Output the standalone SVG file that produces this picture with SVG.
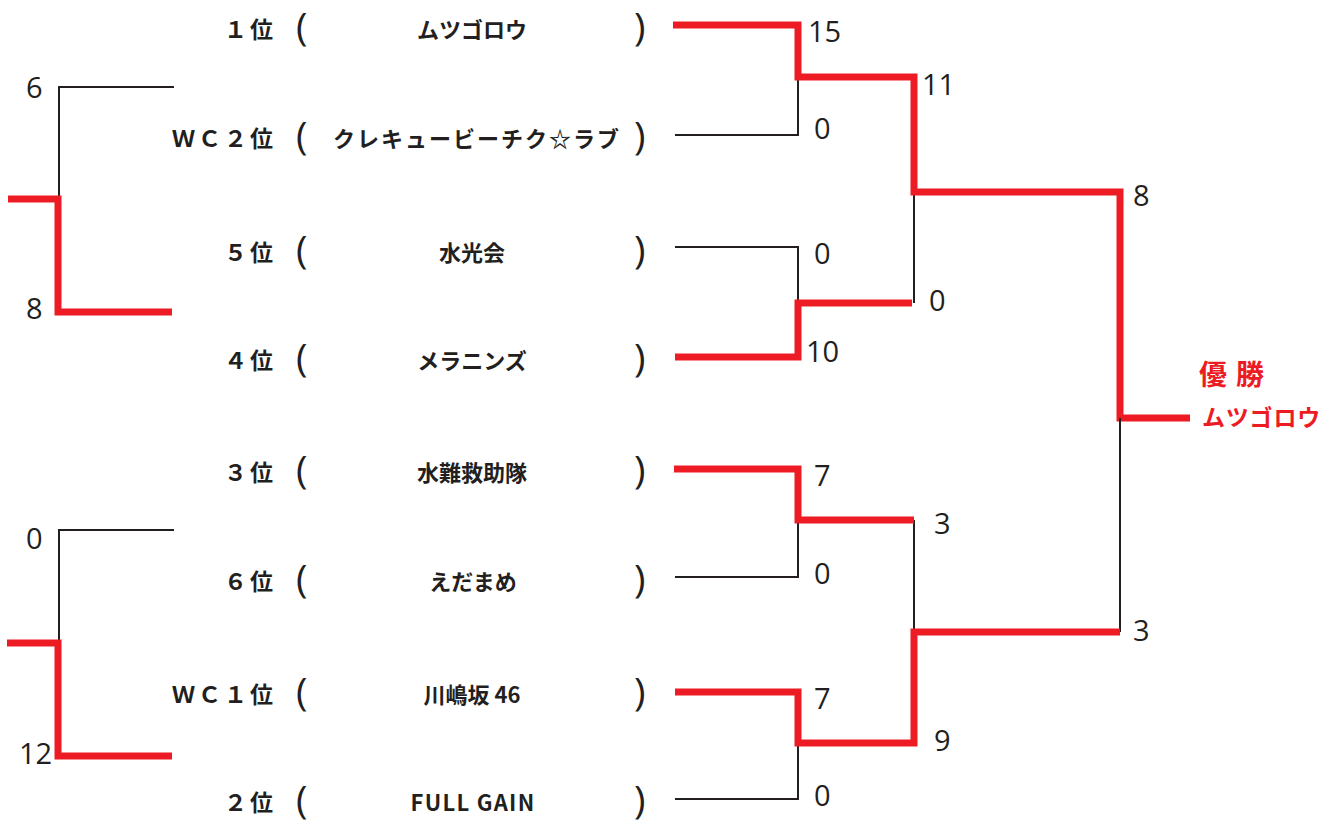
<svg xmlns="http://www.w3.org/2000/svg" width="1336" height="823" viewBox="0 0 1336 823">
<style>
.bg{fill:#ffffff}
.blk{fill:none;stroke:#231f20;stroke-width:2;stroke-linecap:butt;stroke-linejoin:miter}
.red{fill:none;stroke:#ed1c24;stroke-width:7;stroke-linecap:butt;stroke-linejoin:miter}
.rank{font-family:"Noto Sans CJK JP","Noto Sans",sans-serif;font-weight:700;font-size:23px;fill:#231f20;text-anchor:end;letter-spacing:3px}
.name{font-family:"Noto Sans CJK JP","Noto Sans",sans-serif;font-weight:700;font-size:22px;fill:#231f20;text-anchor:middle}
.par{font-family:"Open Sans","Liberation Sans",sans-serif;font-weight:400;font-size:39px;fill:#231f20}
.num{font-family:"Open Sans","Liberation Sans",sans-serif;font-size:29px;fill:#231f20}
.win{font-family:"Noto Sans CJK JP","Noto Sans",sans-serif;font-weight:700;fill:#ed1c24}
</style>
<rect class="bg" x="0" y="0" width="1336" height="823"/>

<g id="connectors">
  <path class="blk" d="M174,87 H59 V199"/>
  <path class="red" d="M8,199 H58 V312 H172"/>
  <path class="blk" d="M174,530 H59 V643"/>
  <path class="red" d="M7,643 H58 V756 H172"/>
  <path class="blk" d="M675,135 H798 V77"/>
  <path class="blk" d="M675,247 H798 V303"/>
  <path class="blk" d="M914,192 V303"/>
  <path class="red" d="M673,25 H798 V77 H914 V192 H1120 V418 H1190"/>
  <path class="red" d="M675,357 H798 V303 H912"/>
  <path class="blk" d="M675,577 H798 V520"/>
  <path class="blk" d="M675,799 H798 V743"/>
  <path class="blk" d="M914,520 V632"/>
  <path class="blk" d="M1120,418 V632"/>
  <path class="red" d="M674,469 H798 V520 H914"/>
  <path class="red" d="M675,692 H798 V743 H914 V632 H1120"/>
</g>

<g id="team-1">
  <text class="rank" x="276" y="38">１位</text>
  <text class="par" x="296" y="41">(</text>
  <text class="name" x="472" y="38">ムツゴロウ</text>
  <text class="par" x="634" y="41">)</text>
</g>
<g id="team-2">
  <text class="rank" x="276" y="147">ＷＣ２位</text>
  <text class="par" x="296" y="150">(</text>
  <text class="name" x="477" y="147" style="letter-spacing:2px">クレキュービーチク☆ラブ</text>
  <text class="par" x="634" y="150">)</text>
</g>
<g id="team-3">
  <text class="rank" x="276" y="261">５位</text>
  <text class="par" x="296" y="264">(</text>
  <text class="name" x="472" y="261">水光会</text>
  <text class="par" x="634" y="264">)</text>
</g>
<g id="team-4">
  <text class="rank" x="276" y="369">４位</text>
  <text class="par" x="296" y="372">(</text>
  <text class="name" x="472" y="369">メラニンズ</text>
  <text class="par" x="634" y="372">)</text>
</g>
<g id="team-5">
  <text class="rank" x="276" y="481">３位</text>
  <text class="par" x="296" y="484">(</text>
  <text class="name" x="472" y="481">水難救助隊</text>
  <text class="par" x="634" y="484">)</text>
</g>
<g id="team-6">
  <text class="rank" x="276" y="590">６位</text>
  <text class="par" x="296" y="593">(</text>
  <text class="name" x="473" y="590">えだまめ</text>
  <text class="par" x="634" y="593">)</text>
</g>
<g id="team-7">
  <text class="rank" x="276" y="703">ＷＣ１位</text>
  <text class="par" x="296" y="706">(</text>
  <text class="name" x="472" y="703">川嶋坂 46</text>
  <text class="par" x="634" y="706">)</text>
</g>
<g id="team-8">
  <text class="rank" x="276" y="811">２位</text>
  <text class="par" x="296" y="814">(</text>
  <text class="name" x="473" y="811" style="letter-spacing:1.3px">FULL GAIN</text>
  <text class="par" x="634" y="814">)</text>
</g>

<g id="scores">
  <text class="num" x="26" y="98">6</text>
  <text class="num" x="26" y="319">8</text>
  <text class="num" x="26" y="549">0</text>
  <text class="num" x="19" y="764">12</text>
  <text class="num" x="808" y="42">15</text>
  <text class="num" x="922" y="95">11</text>
  <text class="num" x="814" y="139">0</text>
  <text class="num" x="814" y="264">0</text>
  <text class="num" x="929" y="311">0</text>
  <text class="num" x="806" y="362">10</text>
  <text class="num" x="814" y="486">7</text>
  <text class="num" x="934" y="534">3</text>
  <text class="num" x="814" y="584">0</text>
  <text class="num" x="814" y="709">7</text>
  <text class="num" x="934" y="751">9</text>
  <text class="num" x="814" y="806">0</text>
  <text class="num" x="1133" y="206">8</text>
  <text class="num" x="1133" y="641">3</text>
</g>

<g id="winner">
  <text class="win" x="1199" y="385" font-size="28" letter-spacing="9">優勝</text>
  <text class="win" x="1202" y="426" font-size="23" letter-spacing="0.8">ムツゴロウ</text>
</g>
</svg>
